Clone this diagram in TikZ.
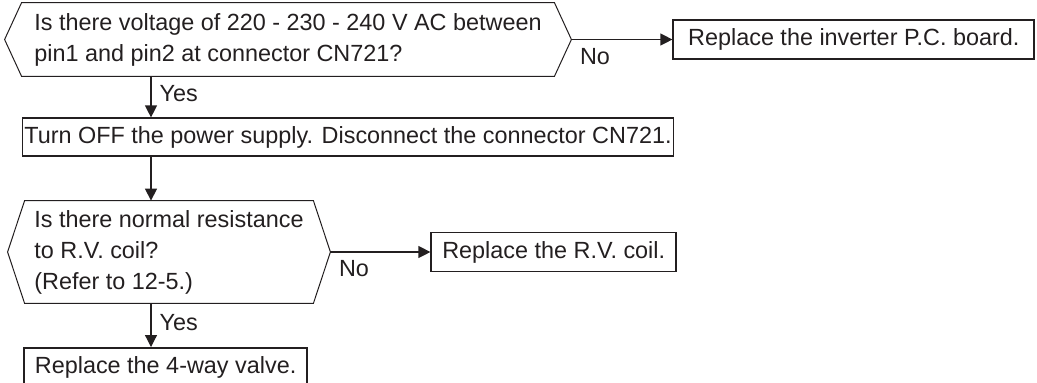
\documentclass[tikz,border=0pt]{standalone}
\usepackage{fontspec}
\setmainfont{Liberation Sans}
\usetikzlibrary{arrows.meta,positioning}
\definecolor{inkgray}{RGB}{35,31,32}

\begin{document}
\begin{tikzpicture}[x=0.5pt, y=-0.5pt,
  every node/.style={font=\fontsize{11.7pt}{15.5pt}\selectfont, text=inkgray},
  ask/.style={align=left, inner sep=0pt},
  hexline/.style={draw=inkgray, line width=0.5pt},
  todo/.style={draw=inkgray, line width=0.6pt, inner xsep=1pt, minimum height=19pt},
  fix/.style={draw=inkgray, line width=0.9pt, inner xsep=5.5pt, minimum height=19.5pt},
  flow/.style={draw=inkgray, line width=0.6pt, -{Triangle[length=6pt,width=6pt]}},
  yeslabel/.style={pos=0.43, anchor=west, inner sep=4pt},
  nolabel/.style={pos=0, anchor=north west, inner sep=4pt}]
\useasboundingbox (0,0) rectangle (1037,382);
\coordinate (spine) at (151,0);

% first check
\node[ask, minimum width=266pt, minimum height=36.5pt] (q1) at (288,39.5)
  {Is there voltage of 220 - 230 - 240 V AC between\\pin1 and pin2 at connector CN721?};
\draw[hexline] (q1.north west) -- (q1.north east) -- ([xshift=8.5pt]q1.east) coordinate (q1tip)
  -- (q1.south east) -- (q1.south west) -- ([xshift=-8.5pt]q1.west) -- cycle;
\node[fix, minimum width=180.5pt, right=59pt of q1] (fix1) {Replace the inverter P.C. board.};

\node[todo, minimum width=325pt] (act) at (348,137)
  {Turn OFF the power supply. Disconnect the connector CN721.};

% second check
\node[ask, minimum width=144pt, minimum height=51pt] (q2) at (169,252)
  {Is there normal resistance\\to R.V. coil?\\(Refer to 12-5.)};
\draw[hexline] (q2.north west) -- (q2.north east) -- ([xshift=8.5pt]q2.east) coordinate (q2tip)
  -- (q2.south east) -- (q2.south west) -- ([xshift=-8.5pt]q2.west) -- cycle;
\node[fix, right=58.5pt of q2] (fix2) {Replace the R.V. coil.};
\node[fix, anchor=north west] (fix3) at (23,347) {Replace the 4-way valve.};

\draw[flow] (q1tip) -- node[nolabel]{No} (fix1);
\draw[flow] (q1.south -| spine) -- node[yeslabel]{Yes} (act.north -| spine);
\draw[flow] (act.south -| spine) -- (q2.north -| spine);
\draw[flow] (q2tip) -- node[nolabel]{No} (fix2);
\draw[flow] (q2.south -| spine) -- node[yeslabel]{Yes} (fix3.north -| spine);
\end{tikzpicture}
\end{document}
